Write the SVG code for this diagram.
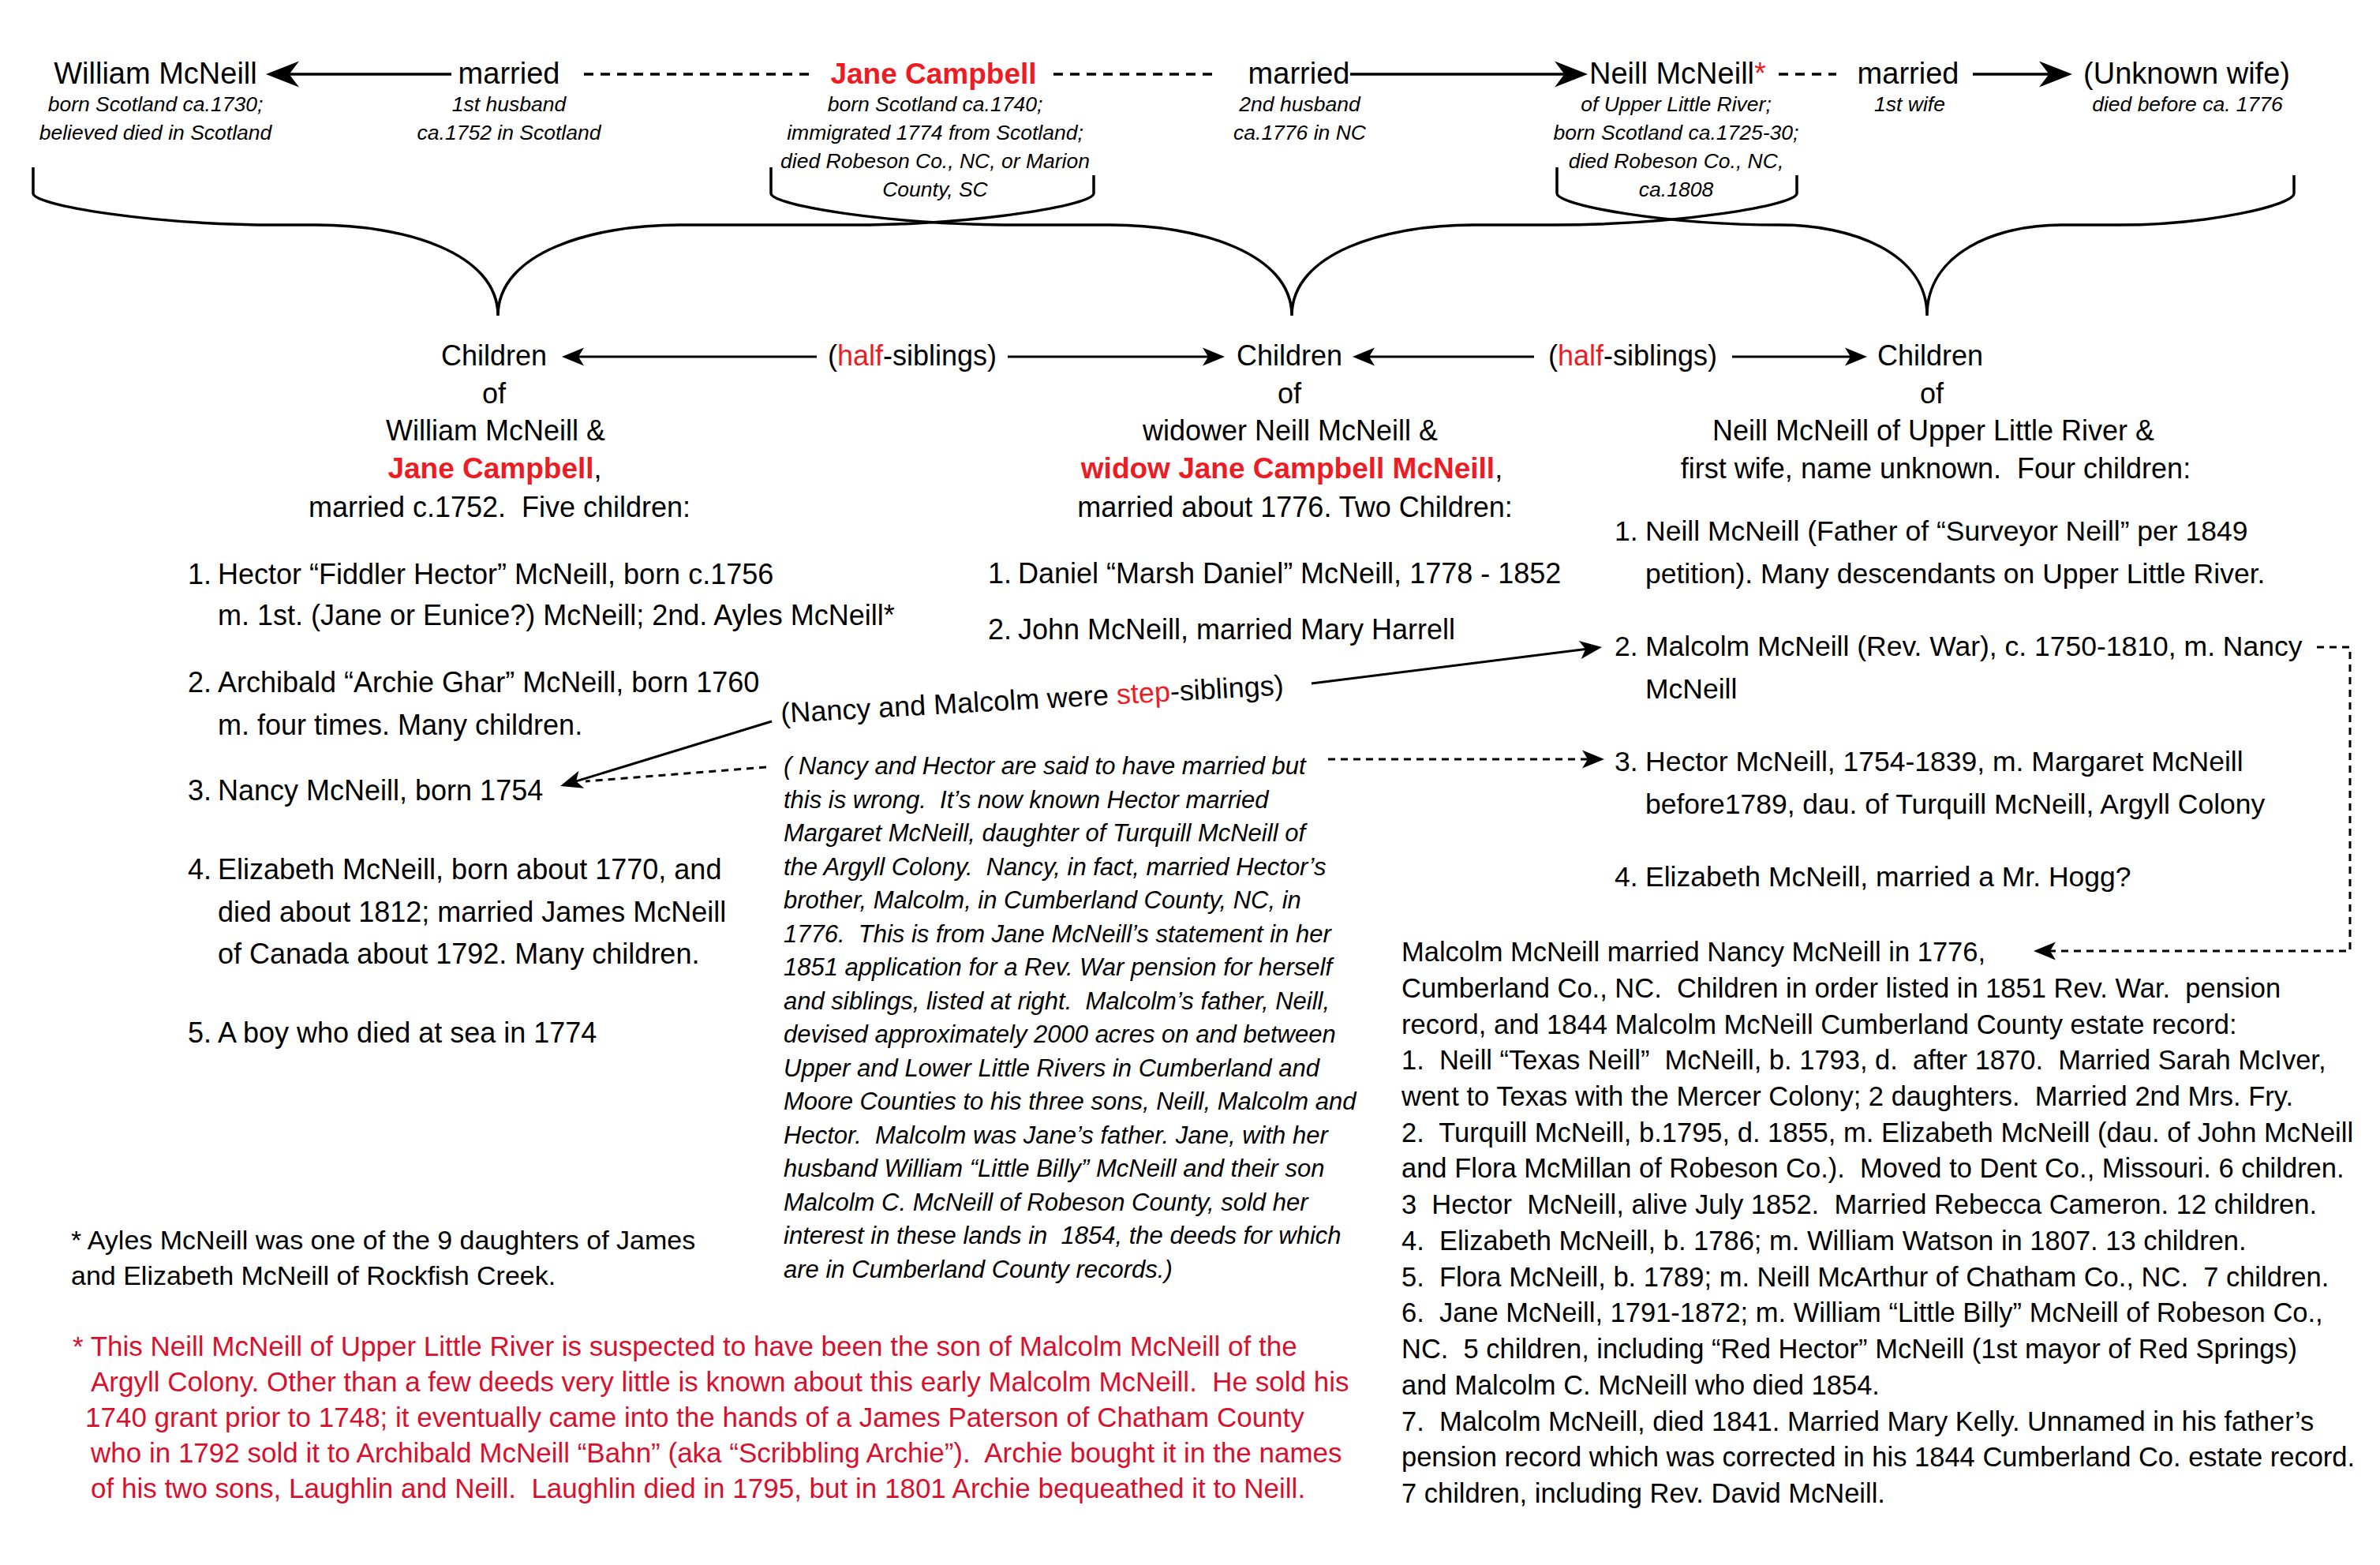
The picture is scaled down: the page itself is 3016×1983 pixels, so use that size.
<svg xmlns="http://www.w3.org/2000/svg" width="3016" height="1983" viewBox="0 0 3016 1983">
<style>
text{font-family:"Liberation Sans",Arial,sans-serif;fill:#000;white-space:pre}
.nm{font-size:38px}
.nb{font-size:37px;font-weight:bold;fill:#ED1C24}
.it{font-size:26.5px;font-style:italic}
.bd{font-size:36px}
.bd2{font-size:35.5px}
.rb{font-weight:bold;fill:#ED1C24}
.red{fill:#ED1C24}
.blk{font-size:31px;font-style:italic}
.sm{font-size:34.5px}
.fn{font-size:34px}
.fr{font-size:35px;fill:#D8102E}
.mid{text-anchor:middle}
.brace{fill:none;stroke:#000;stroke-width:3.5}
.arr{fill:none;stroke:#000;stroke-width:3.5}
.arr2{fill:none;stroke:#000;stroke-width:3}
.dot{fill:none;stroke:#000;stroke-width:3.5;stroke-dasharray:12 9}
.dash{fill:none;stroke:#000;stroke-width:3;stroke-dasharray:9 7}
</style>
<defs>
<marker id="ahBig" markerUnits="userSpaceOnUse" orient="auto" overflow="visible" refX="0" refY="0" markerWidth="50" markerHeight="40">
<path d="M29.5,0 L-12.5,-16.5 L0,0 L-12.5,16.5 Z" fill="#000"/>
</marker>
<marker id="ahMed" markerUnits="userSpaceOnUse" orient="auto" overflow="visible" refX="0" refY="0" markerWidth="40" markerHeight="30">
<path d="M21,0 L-7,-11.5 L0,0 L-7,11.5 Z" fill="#000"/>
</marker>
</defs>
<rect width="3016" height="1983" fill="#fff"/>

<g id="connectors">
<path id="brace-wj" class="brace" d="M42,212 V245 C42,260 192,285 352,285 L401,285 C512,285 631,320 631,400 C631,320 750,285 861,285 L1076,285 C1236,285 1386,260 1386,245 V222"/>
<path id="brace-nj" class="brace" d="M977,212 V245 C977,260 1127,285 1287,285 L1407,285 C1518,285 1637,320 1637,400 C1637,320 1756,285 1867,285 L1967,285 C2127,285 2277,260 2277,245 V222"/>
<path id="brace-nu" class="brace" d="M1973,212 V245 C1973,260 2110,285 2256,285 C2346,285 2442,320 2442,400 C2442,320 2530,285 2612,285 L2683,285 C2799,285 2907,260 2907,245 V222"/>
<path class="arr" d="M572,94 H366.5" marker-end="url(#ahBig)"/>
<path class="dot" d="M740,94 H1031"/>
<path class="dot" d="M1335,94 H1545"/>
<path class="arr" d="M1711,94 H1982.5" marker-end="url(#ahBig)"/>
<path class="dot" d="M2254,94 H2327"/>
<path class="arr" d="M2500,94 H2596.5" marker-end="url(#ahBig)"/>
<path class="arr2" d="M1035,452 H733" marker-end="url(#ahMed)"/>
<path class="arr2" d="M1277,452 H1531" marker-end="url(#ahMed)"/>
<path class="arr2" d="M1944,452 H1735" marker-end="url(#ahMed)"/>
<path class="arr2" d="M2195,452 H2345" marker-end="url(#ahMed)"/>
<path class="arr2" d="M1662,866 L2009.2,822.6" marker-end="url(#ahMed)"/>
<path class="arr2" d="M978,914 L730.1,989.9" marker-end="url(#ahMed)"/>
<path class="dash" d="M971,972 L742,990"/>
<path class="dash" d="M1683,962 H2012" marker-end="url(#ahMed)"/>
<path class="dash" d="M2936,820 H2978 V1205 H2598" marker-end="url(#ahMed)"/>
</g>

<g id="william">
<text class="nm mid" x="197" y="106">William McNeill</text>
<text class="it mid" x="197" y="141">born Scotland ca.1730;</text>
<text class="it mid" x="197" y="177">believed died in Scotland</text>
</g>
<g id="married-1">
<text class="nm mid" x="645" y="106">married</text>
<text class="it mid" x="645" y="141">1st husband</text>
<text class="it mid" x="645" y="177">ca.1752 in Scotland</text>
</g>
<g id="jane">
<text class="nb mid" x="1183" y="106">Jane Campbell</text>
<text class="it mid" x="1185" y="141">born Scotland ca.1740;</text>
<text class="it mid" x="1185" y="177">immigrated 1774 from Scotland;</text>
<text class="it mid" x="1185" y="213">died Robeson Co., NC, or Marion</text>
<text class="it mid" x="1185" y="249">County, SC</text>
</g>
<g id="married-2">
<text class="nm mid" x="1646" y="106">married</text>
<text class="it mid" x="1647" y="141">2nd husband</text>
<text class="it mid" x="1647" y="177">ca.1776 in NC</text>
</g>
<g id="neill">
<text class="nm" x="2014" y="106">Neill McNeill<tspan class="red">*</tspan></text>
<text class="it mid" x="2124" y="141">of Upper Little River;</text>
<text class="it mid" x="2124" y="177">born Scotland ca.1725-30;</text>
<text class="it mid" x="2124" y="213">died Robeson Co., NC,</text>
<text class="it mid" x="2124" y="249">ca.1808</text>
</g>
<g id="married-3">
<text class="nm mid" x="2418" y="106">married</text>
<text class="it mid" x="2420" y="141">1st wife</text>
</g>
<g id="unknown-wife">
<text class="nm mid" x="2771" y="106">(Unknown wife)</text>
<text class="it mid" x="2772" y="141">died before ca. 1776</text>
</g>

<g id="children-william-jane">
<text class="bd mid" x="626" y="463">Children</text>
<text class="bd mid" x="626" y="511">of</text>
<text class="bd mid" x="628" y="558">William McNeill &amp;</text>
<text class="bd mid" x="627" y="606"><tspan class="rb" font-size="37">Jane Campbell</tspan>,</text>
<text class="bd mid" x="633" y="655">married c.1752.  Five children:</text>
</g>
<g id="half-siblings-1">
<text class="bd mid" x="1156" y="463">(<tspan class="red">half</tspan>-siblings)</text>
</g>
<g id="children-neill-jane">
<text class="bd mid" x="1634" y="463">Children</text>
<text class="bd mid" x="1634" y="511">of</text>
<text class="bd mid" x="1635" y="558">widower Neill McNeill &amp;</text>
<text class="bd mid" x="1637" y="606"><tspan class="rb" font-size="37">widow Jane Campbell McNeill</tspan>,</text>
<text class="bd mid" x="1641" y="655">married about 1776. Two Children:</text>
</g>
<g id="half-siblings-2">
<text class="bd mid" x="2069" y="463">(<tspan class="red">half</tspan>-siblings)</text>
</g>
<g id="children-neill-unknown">
<text class="bd mid" x="2446" y="463">Children</text>
<text class="bd mid" x="2448" y="511">of</text>
<text class="bd mid" x="2450" y="558">Neill McNeill of Upper Little River &amp;</text>
<text class="bd mid" x="2453" y="606">first wife, name unknown.  Four children:</text>
</g>

<g id="list-william-jane">
<text class="bd" y="740"><tspan x="238">1.</tspan><tspan x="276">Hector “Fiddler Hector” McNeill, born c.1756</tspan></text>
<text class="bd" x="276" y="792">m. 1st. (Jane or Eunice?) McNeill; 2nd. Ayles McNeill*</text>
<text class="bd" y="877"><tspan x="238">2.</tspan><tspan x="276">Archibald “Archie Ghar” McNeill, born 1760</tspan></text>
<text class="bd" x="276" y="931">m. four times. Many children.</text>
<text class="bd" y="1014"><tspan x="238">3.</tspan><tspan x="276">Nancy McNeill, born 1754</tspan></text>
<text class="bd" y="1114"><tspan x="238">4.</tspan><tspan x="276">Elizabeth McNeill, born about 1770, and</tspan></text>
<text class="bd" x="276" y="1168">died about 1812; married James McNeill</text>
<text class="bd" x="276" y="1221">of Canada about 1792. Many children.</text>
<text class="bd" y="1321"><tspan x="238">5.</tspan><tspan x="276">A boy who died at sea in 1774</tspan></text>
</g>
<g id="list-neill-jane">
<text class="bd" y="739"><tspan x="1252">1.</tspan><tspan x="1290">Daniel “Marsh Daniel” McNeill, 1778 - 1852</tspan></text>
<text class="bd" y="810"><tspan x="1252">2.</tspan><tspan x="1290">John McNeill, married Mary Harrell</tspan></text>
</g>
<g id="step-siblings">
<text class="bd" transform="translate(990,916) rotate(-3.2)">(Nancy and Malcolm were <tspan class="red">step</tspan>-siblings)</text>
</g>
<g id="hector-note">
<text class="blk" x="993" y="981">( Nancy and Hector are said to have married but</text>
<text class="blk" x="993" y="1023.5">this is wrong.  It’s now known Hector married</text>
<text class="blk" x="993" y="1066">Margaret McNeill, daughter of Turquill McNeill of</text>
<text class="blk" x="993" y="1108.5">the Argyll Colony.  Nancy, in fact, married Hector’s</text>
<text class="blk" x="993" y="1151">brother, Malcolm, in Cumberland County, NC, in</text>
<text class="blk" x="993" y="1193.5">1776.  This is from Jane McNeill’s statement in her</text>
<text class="blk" x="993" y="1236">1851 application for a Rev. War pension for herself</text>
<text class="blk" x="993" y="1278.5">and siblings, listed at right.  Malcolm’s father, Neill,</text>
<text class="blk" x="993" y="1321">devised approximately 2000 acres on and between</text>
<text class="blk" x="993" y="1363.5">Upper and Lower Little Rivers in Cumberland and</text>
<text class="blk" x="993" y="1406">Moore Counties to his three sons, Neill, Malcolm and</text>
<text class="blk" x="993" y="1448.5">Hector.  Malcolm was Jane’s father. Jane, with her</text>
<text class="blk" x="993" y="1491">husband William “Little Billy” McNeill and their son</text>
<text class="blk" x="993" y="1533.5">Malcolm C. McNeill of Robeson County, sold her</text>
<text class="blk" x="993" y="1576">interest in these lands in  1854, the deeds for which</text>
<text class="blk" x="993" y="1618.5">are in Cumberland County records.)</text>
</g>
<g id="list-neill-unknown">
<text class="bd2" y="685"><tspan x="2046">1.</tspan><tspan x="2085">Neill McNeill (Father of “Surveyor Neill” per 1849</tspan></text>
<text class="bd2" x="2085" y="739">petition). Many descendants on Upper Little River.</text>
<text class="bd2" y="831"><tspan x="2046">2.</tspan><tspan x="2085">Malcolm McNeill (Rev. War), c. 1750-1810, m. Nancy</tspan></text>
<text class="bd2" x="2085" y="885">McNeill</text>
<text class="bd2" y="977"><tspan x="2046">3.</tspan><tspan x="2085">Hector McNeill, 1754-1839, m. Margaret McNeill</tspan></text>
<text class="bd2" x="2085" y="1031">before1789, dau. of Turquill McNeill, Argyll Colony</text>
<text class="bd2" y="1123"><tspan x="2046">4.</tspan><tspan x="2085">Elizabeth McNeill, married a Mr. Hogg?</tspan></text>
</g>
<g id="malcolm-family">
<text class="sm" x="1776" y="1218">Malcolm McNeill married Nancy McNeill in 1776,</text>
<text class="sm" x="1776" y="1263.7">Cumberland Co., NC.  Children in order listed in 1851 Rev. War.  pension</text>
<text class="sm" x="1776" y="1309.5">record, and 1844 Malcolm McNeill Cumberland County estate record:</text>
<text class="sm" x="1776" y="1355.2">1.  Neill “Texas Neill”  McNeill, b. 1793, d.  after 1870.  Married Sarah McIver,</text>
<text class="sm" x="1776" y="1400.9">went to Texas with the Mercer Colony; 2 daughters.  Married 2nd Mrs. Fry.</text>
<text class="sm" x="1776" y="1446.7">2.  Turquill McNeill, b.1795, d. 1855, m. Elizabeth McNeill (dau. of John McNeill</text>
<text class="sm" x="1776" y="1492.4">and Flora McMillan of Robeson Co.).  Moved to Dent Co., Missouri. 6 children.</text>
<text class="sm" x="1776" y="1538.1">3  Hector  McNeill, alive July 1852.  Married Rebecca Cameron. 12 children.</text>
<text class="sm" x="1776" y="1583.8">4.  Elizabeth McNeill, b. 1786; m. William Watson in 1807. 13 children.</text>
<text class="sm" x="1776" y="1629.6">5.  Flora McNeill, b. 1789; m. Neill McArthur of Chatham Co., NC.  7 children.</text>
<text class="sm" x="1776" y="1675.3">6.  Jane McNeill, 1791-1872; m. William “Little Billy” McNeill of Robeson Co.,</text>
<text class="sm" x="1776" y="1721">NC.  5 children, including “Red Hector” McNeill (1st mayor of Red Springs)</text>
<text class="sm" x="1776" y="1766.8">and Malcolm C. McNeill who died 1854.</text>
<text class="sm" x="1776" y="1812.5">7.  Malcolm McNeill, died 1841. Married Mary Kelly. Unnamed in his father’s</text>
<text class="sm" x="1776" y="1858.2">pension record which was corrected in his 1844 Cumberland Co. estate record.</text>
<text class="sm" x="1776" y="1904">7 children, including Rev. David McNeill.</text>
</g>
<g id="footnote-ayles">
<text class="fn" x="90" y="1583">* Ayles McNeill was one of the 9 daughters of James</text>
<text class="fn" x="90" y="1628">and Elizabeth McNeill of Rockfish Creek.</text>
</g>
<g id="footnote-neill">
<text class="fr" x="92" y="1718">* This Neill McNeill of Upper Little River is suspected to have been the son of Malcolm McNeill of the</text>
<text class="fr" x="115" y="1763">Argyll Colony. Other than a few deeds very little is known about this early Malcolm McNeill.  He sold his</text>
<text class="fr" x="108" y="1808">1740 grant prior to 1748; it eventually came into the hands of a James Paterson of Chatham County</text>
<text class="fr" x="115" y="1853">who in 1792 sold it to Archibald McNeill “Bahn” (aka “Scribbling Archie”).  Archie bought it in the names</text>
<text class="fr" x="115" y="1898">of his two sons, Laughlin and Neill.  Laughlin died in 1795, but in 1801 Archie bequeathed it to Neill.</text>
</g>
</svg>
